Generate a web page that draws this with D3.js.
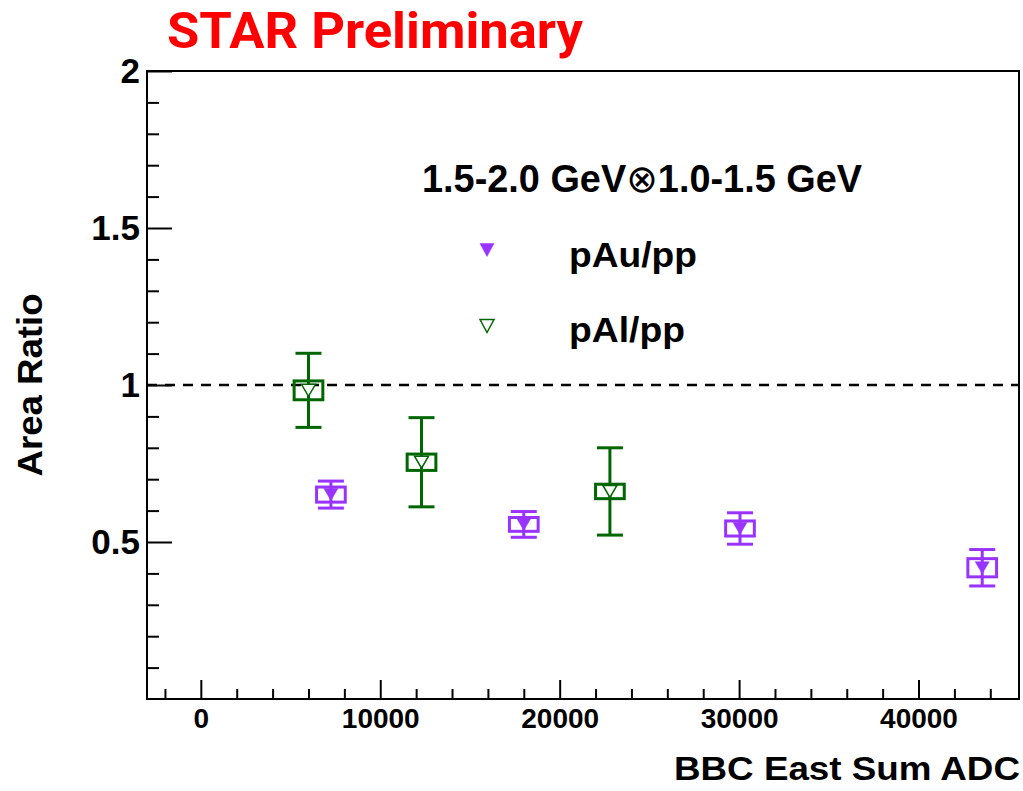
<!DOCTYPE html>
<html>
<head>
<meta charset="utf-8">
<script src="https://cdn.jsdelivr.net/npm/d3@7"></script>
<style>
  html, body { margin: 0; padding: 0; background: #fff; }
  svg { display: block; }
</style>
</head>
<body>
<script>
// ---- data ----
const xTicks = [0, 10000, 20000, 30000, 40000];
const xTickLabels = ["0", "10000", "20000", "30000", "40000"];
const yTicks = [0.5, 1, 1.5, 2];
const yTickLabels = ["0.5", "1", "1.5", "2"];

// pAu/pp : centrality bins in BBC East sum ADC
const pAuX = [7250, 18000, 30050, 43550];
const pAuY = [0.651, 0.556, 0.543, 0.418];
const pAuStat = [0.043, 0.041, 0.050, 0.058];
const pAuSys = [0.024, 0.022, 0.024, 0.029];

// pAl/pp
const pAlX = [6000, 12300, 22800];
const pAlY = [0.983, 0.754, 0.661];
const pAlStat = [0.118, 0.142, 0.139];
const pAlSys = [0.030, 0.026, 0.023];

// half width of the systematic boxes along x (ADC units)
const sysHalfX = 800;
const referenceLine = 1;

const W = 1023, H = 791;
const frame = { left: 147, right: 1019, top: 71, bottom: 699 };
const purple = "#9933ff";
const green = "#006600";
const axisFont = "'Liberation Sans', Arial, Helvetica, sans-serif";

const svg = d3.select("body").append("svg")
  .attr("width", W).attr("height", H);

const x = d3.scaleLinear().domain([-3000, 45600]).range([frame.left, frame.right]);
const y = d3.scaleLinear().domain([0, 2]).range([frame.bottom, frame.top]);

// ---- frame ----
svg.append("rect")
  .attr("x", frame.left).attr("y", frame.top)
  .attr("width", frame.right - frame.left).attr("height", frame.bottom - frame.top)
  .attr("fill", "none").attr("stroke", "#000").attr("stroke-width", 2);

// ---- x axis (ticks pointing inward) ----
const xMinor = d3.range(-2000, 45600, 2000).filter(v => v % 10000 !== 0);
const gxMinor = svg.append("g").attr("transform", `translate(0,${frame.bottom})`)
  .call(d3.axisBottom(x).tickValues(xMinor).tickSize(-10).tickFormat(""));
const gx = svg.append("g").attr("transform", `translate(0,${frame.bottom})`)
  .call(d3.axisBottom(x).tickValues(xTicks).tickSize(-19).tickPadding(9)
    .tickFormat((d, i) => xTickLabels[i]));
[gx, gxMinor].forEach(g => {
  g.select(".domain").remove();
  g.selectAll(".tick line").attr("stroke", "#000").attr("stroke-width", 2);
});
gx.selectAll(".tick text")
  .attr("font-family", axisFont).attr("font-weight", "bold")
  .attr("font-size", 28).attr("fill", "#000");

// ---- y axis ----
const yMinor = d3.range(1, 20).map(v => v / 10).filter(v => Math.abs(v * 2 - Math.round(v * 2)) > 1e-6);
const gyMinor = svg.append("g").attr("transform", `translate(${frame.left},0)`)
  .call(d3.axisLeft(y).tickValues(yMinor).tickSize(-12).tickFormat(""));
const gy = svg.append("g").attr("transform", `translate(${frame.left},0)`)
  .call(d3.axisLeft(y).tickValues(yTicks).tickSize(-25).tickPadding(7)
    .tickFormat((d, i) => yTickLabels[i]));
[gy, gyMinor].forEach(g => {
  g.select(".domain").remove();
  g.selectAll(".tick line").attr("stroke", "#000").attr("stroke-width", 2);
});
gy.selectAll(".tick text")
  .attr("font-family", axisFont).attr("font-weight", "bold")
  .attr("font-size", 35).attr("fill", "#000");

// ---- axis titles ----
svg.append("text")
  .attr("x", 1020).attr("y", 780)
  .attr("text-anchor", "end")
  .attr("font-family", axisFont).attr("font-weight", "bold").attr("font-size", 33)
  .attr("textLength", 346).attr("lengthAdjust", "spacingAndGlyphs")
  .text("BBC East Sum ADC");

svg.append("text")
  .attr("transform", `translate(42,${y(1)}) rotate(-90)`)
  .attr("text-anchor", "middle")
  .attr("font-family", axisFont).attr("font-weight", "bold").attr("font-size", 35)
  .attr("textLength", 183).attr("lengthAdjust", "spacingAndGlyphs")
  .text("Area Ratio");

// ---- reference line at ratio = 1 ----
svg.append("line")
  .attr("x1", frame.left).attr("x2", frame.right)
  .attr("y1", y(referenceLine)).attr("y2", y(referenceLine))
  .attr("stroke", "#000").attr("stroke-width", 2.5)
  .attr("stroke-dasharray", "10,8");

// ---- markers ----
function downTriangle(cx, cy, w, h) {
  return `M${cx - w / 2},${cy - h / 2}L${cx + w / 2},${cy - h / 2}L${cx},${cy + h / 2}Z`;
}

function drawSeries(xs, ys, stat, sys, color, filled) {
  const pts = xs.map((v, i) => ({ x: v, y: ys[i], stat: stat[i], sys: sys[i] }));
  const g = svg.append("g");
  const capHalf = 13;
  // systematic boxes
  g.selectAll("rect.sys").data(pts).enter().append("rect")
    .attr("class", "sys")
    .attr("x", d => x(d.x - sysHalfX))
    .attr("y", d => y(d.y + d.sys))
    .attr("width", d => x(d.x + sysHalfX) - x(d.x - sysHalfX))
    .attr("height", d => y(d.y - d.sys) - y(d.y + d.sys))
    .attr("fill", "none").attr("stroke", color).attr("stroke-width", 3);
  // statistical bars
  g.selectAll("line.stat").data(pts).enter().append("line")
    .attr("x1", d => x(d.x)).attr("x2", d => x(d.x))
    .attr("y1", d => y(d.y + d.stat)).attr("y2", d => y(d.y - d.stat))
    .attr("stroke", color).attr("stroke-width", 3);
  ["+", "-"].forEach(sgn => {
    g.selectAll(null).data(pts).enter().append("line")
      .attr("x1", d => x(d.x) - capHalf).attr("x2", d => x(d.x) + capHalf)
      .attr("y1", d => y(sgn === "+" ? d.y + d.stat : d.y - d.stat))
      .attr("y2", d => y(sgn === "+" ? d.y + d.stat : d.y - d.stat))
      .attr("stroke", color).attr("stroke-width", 3);
  });
  // markers
  g.selectAll("path.mk").data(pts).enter().append("path")
    .attr("d", d => downTriangle(x(d.x), y(d.y), 14, 12))
    .attr("fill", filled ? color : "#fff")
    .attr("stroke", color).attr("stroke-width", filled ? 0.5 : 1.5);
}

drawSeries(pAlX, pAlY, pAlStat, pAlSys, green, false);
drawSeries(pAuX, pAuY, pAuStat, pAuSys, purple, true);

// ---- legend ----
const leg = svg.append("g");
const header = leg.append("text")
  .attr("x", 422).attr("y", 192)
  .attr("font-family", axisFont).attr("font-weight", "bold").attr("font-size", 38)
  .attr("textLength", 440).attr("lengthAdjust", "spacingAndGlyphs");
header.append("tspan").text("1.5-2.0 GeV");
header.append("tspan")
  .attr("font-family", "'DejaVu Sans', sans-serif").attr("font-weight", "normal")
  .text("\u2297");
header.append("tspan").text("1.0-1.5 GeV");

const legendRows = [
  { label: "pAu/pp", color: purple, filled: true, my: 250, ty: 267, len: 128 },
  { label: "pAl/pp", color: green, filled: false, my: 326, ty: 342, len: 116 }
];
legendRows.forEach(r => {
  leg.append("path")
    .attr("d", downTriangle(487, r.my, 14, 13))
    .attr("fill", r.filled ? r.color : "none")
    .attr("stroke", r.color).attr("stroke-width", r.filled ? 0.5 : 1.5);
  leg.append("text")
    .attr("x", 569).attr("y", r.ty)
    .attr("font-family", axisFont).attr("font-weight", "bold").attr("font-size", 35)
    .attr("textLength", r.len).attr("lengthAdjust", "spacingAndGlyphs")
    .text(r.label);
});

// ---- preliminary tag ----
svg.append("text")
  .attr("x", 167).attr("y", 48)
  .attr("font-family", "Roboto, 'Open Sans', sans-serif").attr("font-weight", "bold")
  .attr("font-size", 50).attr("fill", "#ff0000")
  .attr("textLength", 416).attr("lengthAdjust", "spacingAndGlyphs")
  .text("STAR Preliminary");
</script>
</body>
</html>
